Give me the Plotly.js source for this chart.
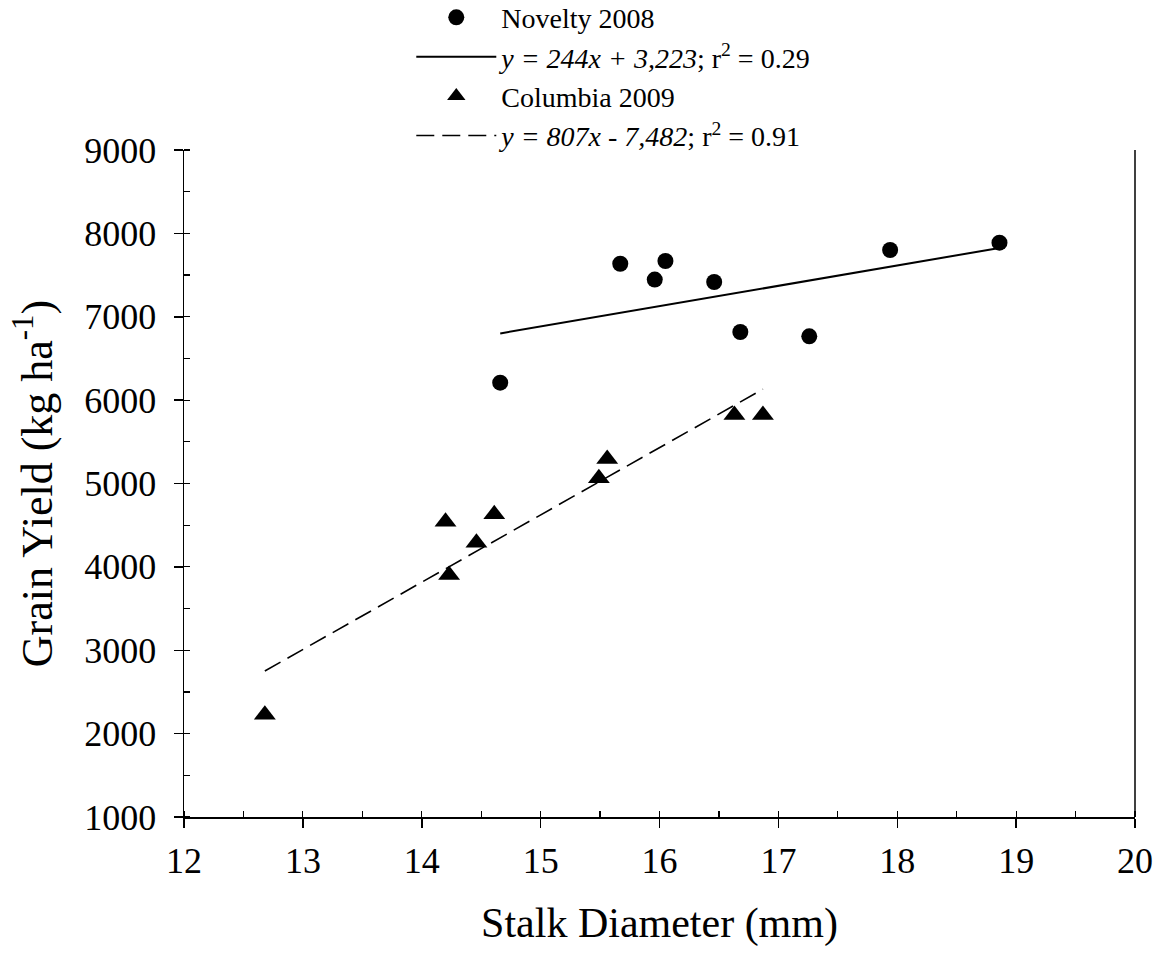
<!DOCTYPE html>
<html>
<head>
<meta charset="utf-8">
<script src="https://cdn.plot.ly/plotly-3.0.1.min.js"></script>
<style>html,body{margin:0;padding:0;background:#fff;}#chart{width:1166px;height:959px;}</style>
</head>
<body>
<div id="chart"></div>
<script>
// Novelty 2008 data
const noveltyX = [14.66, 15.67, 15.96, 16.05, 16.46, 16.68, 17.26, 17.94, 18.86];
const noveltyY = [6209, 7636, 7446, 7669, 7417, 6817, 6765, 7801, 7888];
// Columbia 2009 data
const columbiaX = [12.68, 14.20, 14.23, 14.46, 14.61, 15.49, 15.56, 16.63, 16.87];
const columbiaY = [2227, 4542, 3903, 4290, 4630, 5062, 5294, 5822, 5822];
// regression fits
const noveltyFit = {slope: 244, intercept: 3223};
const columbiaFit = {slope: 807, intercept: -7482};
const seriesNames = ['Novelty 2008', '<i>y = 244x + 3,223</i>; r<sup>2</sup> = 0.29',
                     'Columbia 2009', '<i>y = 807x - 7,482</i>; r<sup>2</sup> = 0.91'];
const xTicks = [12, 13, 14, 15, 16, 17, 18, 19, 20];
const yTicks = [1000, 2000, 3000, 4000, 5000, 6000, 7000, 8000, 9000];

function fitLine(xs, fit) {
  const x0 = Math.min(...xs), x1 = Math.max(...xs);
  return {x: [x0, x1], y: [fit.slope * x0 + fit.intercept, fit.slope * x1 + fit.intercept]};
}
const nl = fitLine(noveltyX, noveltyFit);
const cl = fitLine(columbiaX, columbiaFit);

const font = 'Liberation Serif';
const traces = [
  {x: noveltyX, y: noveltyY, mode: 'markers', type: 'scatter', name: seriesNames[0],
   marker: {symbol: 'circle', size: 16, color: '#000'}},
  {x: nl.x, y: nl.y, mode: 'lines', type: 'scatter', name: seriesNames[1],
   line: {color: '#000', width: 2}},
  {x: columbiaX, y: columbiaY, mode: 'markers', type: 'scatter', name: seriesNames[2],
   marker: {symbol: 'triangle-up', size: 19, color: '#000'}},
  {x: cl.x, y: cl.y, mode: 'lines', type: 'scatter', name: seriesNames[3],
   line: {color: '#000', width: 1.6, dash: '18px,8px'}}
];

const layout = {
  width: 1166, height: 959,
  margin: {l: 184, r: 31, t: 150, b: 142, autoexpand: false},
  paper_bgcolor: '#fff', plot_bgcolor: '#fff',
  font: {family: font, color: '#000', size: 36},
  showlegend: true,
  legend: {x: 0.239, y: 1.236, xanchor: 'left', yanchor: 'top', bgcolor: 'rgba(0,0,0,0)',
           font: {family: font, size: 28, color: '#000'}, tracegroupgap: 0, itemwidth: 80},
  xaxis: {range: [12, 20], tickvals: xTicks, ticktext: xTicks.map(String),
          showgrid: false, zeroline: false, showline: true, linecolor: '#000', linewidth: 1.5,
          ticks: 'outside', ticklen: 9, tickwidth: 1.5, tickcolor: '#000',
          tickfont: {family: font, size: 36}, ticklabelstandoff: 2,
          minor: {dtick: 0.5, ticks: 'inside', ticklen: 6, tickwidth: 1.2, tickcolor: '#000', showgrid: false},
          title: {text: 'Stalk Diameter (mm)', font: {family: font, size: 42}, standoff: 28}},
  yaxis: {range: [1000, 9000], tickvals: yTicks, ticktext: yTicks.map(String),
          showgrid: false, zeroline: false, showline: true, linecolor: '#000', linewidth: 1.5,
          ticks: 'outside', ticklen: 9, tickwidth: 1.5, tickcolor: '#000',
          tickfont: {family: font, size: 36}, ticklabelstandoff: 10,
          minor: {dtick: 500, ticks: 'inside', ticklen: 6, tickwidth: 1.2, tickcolor: '#000', showgrid: false},
          title: {text: 'Grain Yield (kg ha<sup>-1</sup>)', font: {family: font, size: 44}, standoff: 18}},
  shapes: [{type: 'line', xref: 'paper', yref: 'paper', x0: 1, x1: 1, y0: 0, y1: 1,
            line: {color: '#000', width: 1.5}}]
};

Plotly.newPlot('chart', traces, layout, {displayModeBar: false, staticPlot: true});
</script>
</body>
</html>
